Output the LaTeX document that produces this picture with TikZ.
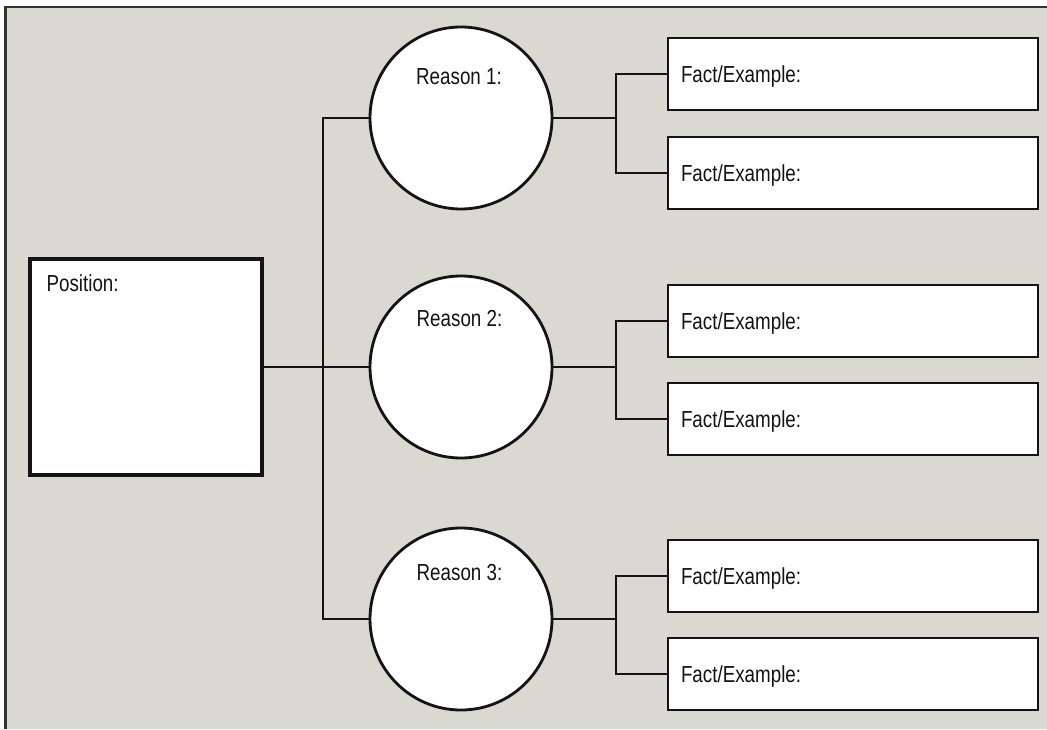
\documentclass[tikz,border=0pt]{standalone}
\usepackage{fontspec}
\setmainfont[FakeStretch=0.81]{Liberation Sans}
\usetikzlibrary{positioning}
\definecolor{paper}{RGB}{217,217,209}
\definecolor{ink}{RGB}{20,20,20}

\begin{document}
\begin{tikzpicture}[node distance=2cm, on grid, font=\fontsize{13.2}{15}\selectfont, text=ink,
    box/.style={draw=ink, fill=white, line width=2pt, minimum width=4.64cm, minimum height=4.32cm, inner sep=0pt},
    reason/.style={circle, draw=ink, fill=white, line width=1.6pt, minimum size=3.64cm, inner sep=0pt},
    fact/.style={draw=ink, fill=white, line width=1.3pt, text width=6.88cm, inner xsep=0.26cm, minimum height=1.44cm, align=left, text depth=0pt},
    tag/.style={anchor=base west, inner sep=0pt},
    head/.style={inner sep=0pt},
    link/.style={draw=ink, line width=1.3pt}]
      \useasboundingbox (-2.92,7.34) rectangle (18.02,-7.24);
      \fill[white] (-2.92,7.34) rectangle (18.02,-7.24);
      \fill[paper] (-2.81,7.20) rectangle (18.02,-7.24);
      \draw[line width=1.2pt, black!80] (-2.81,-7.24) |- (18.02,7.20);

      \node[box]     (pos)                                    [label={[tag, xshift=0.36cm, yshift=-0.68cm]north west:Position:}] {};
      \node[reason]  (r_2)  [right=6.3cm of pos]              [label={[head, xshift=-0.03cm, yshift=0.96cm]center:Reason 2:}] {};
      \node[reason]  (r_1)  [above=4.98cm of r_2]             [label={[head, xshift=-0.04cm, yshift=0.83cm]center:Reason 1:}] {};
      \node[reason]  (r_3)  [below=5.04cm of r_2]             [label={[head, xshift=-0.03cm, yshift=0.92cm]center:Reason 3:}] {};
      \node[fact]    (f_11) [above right=0.88cm and 7.84cm of r_1] {Fact/Example:};
      \node[fact]    (f_12) [below right=1.10cm and 7.84cm of r_1] {Fact/Example:};
      \node[fact]    (f_21) [above right=0.92cm and 7.84cm of r_2] {Fact/Example:};
      \node[fact]    (f_22) [below right=1.04cm and 7.84cm of r_2] {Fact/Example:};
      \node[fact]    (f_31) [above right=0.86cm and 7.84cm of r_3] {Fact/Example:};
      \node[fact]    (f_32) [below right=1.10cm and 7.84cm of r_3] {Fact/Example:};
      \coordinate[left=2.76cm of r_1]  (trunk);
      \coordinate[right=3.1cm of r_1]  (b_1);
      \coordinate[right=3.1cm of r_2]  (b_2);
      \coordinate[right=3.1cm of r_3]  (b_3);

      \draw[link] (pos.east) -- (r_2.west);
      \draw[link] (r_1.west) -- (trunk) |- (r_3.west);
      \draw[link] (r_1.east) -- (b_1)  (f_11.west) -| (b_1) |- (f_12.west);
      \draw[link] (r_2.east) -- (b_2)  (f_21.west) -| (b_2) |- (f_22.west);
      \draw[link] (r_3.east) -- (b_3)  (f_31.west) -| (b_3) |- (f_32.west);
\end{tikzpicture}
\end{document}
